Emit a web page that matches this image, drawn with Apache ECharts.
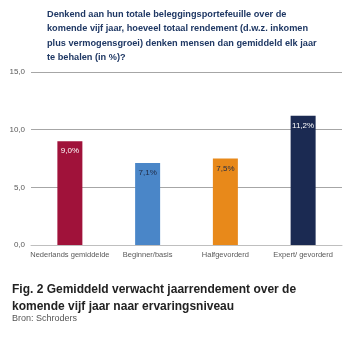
<!DOCTYPE html>
<html><head><meta charset="utf-8">
<script src="https://cdn.jsdelivr.net/npm/echarts@6/dist/echarts.min.js"></script>
<style>html,body{margin:0;padding:0;background:#fff}#c{width:344px;height:341px}</style>
</head><body><div id="c"></div>
<script>
const categories = ["Nederlands gemiddelde", "Beginner/basis", "Halfgevorderd", "Expert/ gevorderd"];
const values = [9.0, 7.1, 7.5, 11.2];
const valueLabels = ["9,0%", "7,1%", "7,5%", "11,2%"];
const yTicks = [0, 5, 10, 15];
const barColors = ["#A0123A", "#4A86C8", "#E8891A", "#1B2A52"];
const labelColors = ["#ffffff", "#1f2a44", "#1f2a44", "#ffffff"];

const chart = echarts.init(document.getElementById('c'));
const font = "'Liberation Sans', Arial, sans-serif";
chart.setOption({
  animation: false,
  textStyle: {fontFamily: font},
  title: [
    {text: "Denkend aan hun totale beleggingsportefeuille over de\nkomende vijf jaar, hoeveel totaal rendement (d.w.z. inkomen\nplus vermogensgroei) denken mensen dan gemiddeld elk jaar\nte behalen (in %)?",
     left: 42, top: 2, textStyle: {fontSize: 9.2, fontWeight: 'bold', color: '#1F3864', lineHeight: 14.4, fontFamily: font}},
    {text: "Fig. 2 Gemiddeld verwacht jaarrendement over de\nkomende vijf jaar naar ervaringsniveau",
     left: 7, top: 276, textStyle: {fontSize: 12, fontWeight: 'bold', color: '#222', lineHeight: 17, fontFamily: font}},
    {text: "Bron: Schroders", left: 7, top: 309, textStyle: {fontSize: 9, fontWeight: 'normal', color: '#555', fontFamily: font}}
  ],
  grid: {left: 31, right: 2, top: 72, bottom: 96},
  xAxis: {
    type: 'category', data: categories,
    axisLine: {lineStyle: {color: '#bfbfbf'}}, axisTick: {show: false},
    axisLabel: {color: '#595959', fontSize: 7.5, margin: 6, interval: 0}
  },
  yAxis: {
    type: 'value', min: 0, max: 15, interval: 5,
    axisLine: {show: false}, axisTick: {show: false},
    splitLine: {lineStyle: {color: '#a6a6a6', width: 1}},
    axisLabel: {color: '#595959', fontSize: 8, margin: 6,
      formatter: v => yTicks.includes(v) ? v.toFixed(1).replace('.', ',') : ''}
  },
  series: [{
    type: 'bar', barWidth: 25,
    data: values.map((v, i) => ({value: v, itemStyle: {color: barColors[i]},
      label: {color: labelColors[i], formatter: valueLabels[i]}})),
    label: {show: true, position: 'insideTop', distance: 6, fontSize: 8}
  }]
});
</script></body></html>
